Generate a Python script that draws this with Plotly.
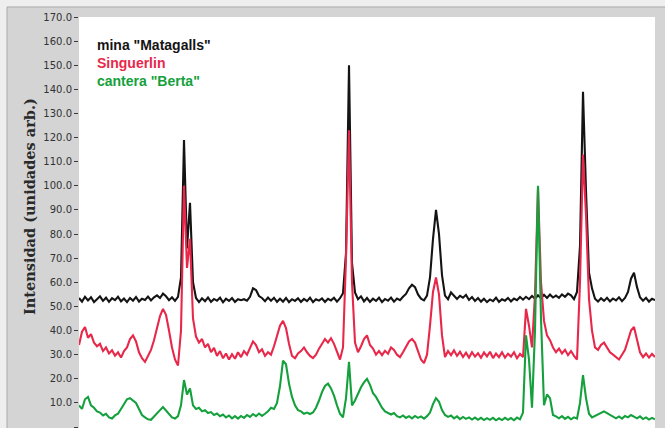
import numpy as np
import plotly.graph_objects as go

# Step scan: 2-theta start and step (degrees)
two_theta_start = 5.0
two_theta_step = 0.3

# Intensities (arbitrary units), one value per scan step
mina_matagalls = [
    53.5, 52.0, 54.0, 52.5, 53.8, 51.8, 53.0, 54.2, 52.3, 53.6,
    51.9, 53.4, 52.6, 54.0, 52.1, 53.3, 51.8, 53.5, 52.4, 53.9,
    52.0, 53.2, 52.7, 54.1, 52.5, 53.8, 54.6, 53.5, 55.3, 54.2,
    52.6, 53.8, 52.3, 54.0, 62.0, 119.0, 74.0, 93.0, 60.0, 53.5,
    51.8, 53.4, 52.2, 53.7, 51.9, 53.1, 52.4, 53.6, 51.7, 53.2,
    52.3, 53.5, 51.9, 53.0, 52.6, 53.0, 52.4, 54.0, 57.5, 56.8,
    54.3, 53.5, 52.2, 53.7, 52.4, 53.6, 51.9, 53.2, 52.0, 53.5,
    51.8, 53.0, 52.3, 53.4, 51.9, 53.1, 52.2, 53.6, 51.8, 53.0,
    52.4, 53.3, 51.9, 53.2, 52.5, 53.6, 52.0, 53.4, 55.5, 72.0,
    150.0, 68.0, 55.8, 53.0, 54.2, 52.1, 53.5, 51.9, 53.2, 52.3,
    53.6, 51.8, 53.1, 52.4, 53.7, 52.0, 53.3, 52.6, 54.0, 55.2,
    57.5, 59.0, 58.0, 55.0, 53.2, 52.5, 54.5, 62.0, 78.0, 90.0,
    80.0, 63.0, 54.5, 53.0, 55.8, 54.6, 53.1, 54.4, 53.6, 54.8,
    52.7, 53.9, 52.3, 53.5, 52.0, 53.2, 51.8, 52.9, 52.2, 53.6,
    51.9, 53.0, 52.4, 53.5, 52.1, 53.3, 52.6, 53.9, 52.8, 54.0,
    53.0, 54.3, 53.2, 54.6, 53.4, 54.8, 53.5, 54.9, 53.7, 54.5,
    53.6, 55.0, 54.0, 55.3, 54.6, 53.0, 56.0, 75.0, 139.0, 98.0,
    64.0, 57.5, 53.2, 52.0, 53.4, 52.3, 53.6, 52.1, 53.3, 52.5,
    53.8, 52.2, 53.5, 56.0, 61.5, 64.0, 58.0, 53.8, 52.4, 53.6,
    52.0, 53.2, 52.6,
]

singuerlin = [
    34.0, 39.5, 41.5, 37.0, 38.5, 35.0, 33.5, 34.5, 31.5, 33.0,
    30.5, 31.8, 29.6, 31.0, 28.8, 31.5, 33.0, 36.5, 38.0, 35.5,
    31.0, 28.5, 27.0, 29.5, 32.0, 36.0, 41.0, 46.0, 49.0, 46.5,
    40.0, 33.0, 28.0, 25.5, 40.0, 100.0, 66.0, 78.0, 45.0, 37.5,
    35.0, 36.5, 33.0, 34.5, 31.0, 32.8, 29.5, 31.5, 28.5, 30.5,
    28.0, 30.2, 28.3, 31.0, 29.0, 31.5, 30.0, 33.0, 35.5, 34.0,
    31.0, 32.2, 29.5, 31.0, 30.0, 33.5, 38.0, 42.0, 44.0, 41.0,
    34.5, 29.5, 28.5, 30.5, 31.5, 33.0, 31.0, 29.5, 28.6, 30.0,
    32.5, 34.5, 36.5, 35.0, 36.8, 34.5, 31.0, 28.0, 33.0, 70.0,
    123.0, 60.0, 35.0, 31.0, 33.5, 36.5, 38.0, 34.0, 32.5, 30.0,
    31.5, 29.8, 31.6, 30.4, 33.0, 32.0, 30.0, 29.0, 31.0, 33.5,
    35.5, 36.5, 35.0, 31.5, 28.0, 26.5, 30.0, 42.0, 56.0, 62.0,
    55.0, 38.0, 29.0, 31.5, 29.8, 31.8, 29.5, 31.2, 29.0, 30.8,
    28.8, 31.0, 29.2, 30.6, 28.7, 30.9, 29.3, 31.2, 28.6, 30.5,
    29.0, 31.0, 28.8, 30.4, 29.2, 31.0, 28.5, 30.3, 29.0, 49.0,
    42.0, 33.0, 55.0, 99.0, 60.0, 44.0, 38.0, 36.0, 33.0, 31.0,
    32.5, 30.5, 32.0, 29.8, 31.5, 29.5, 28.0, 60.0, 113.0, 88.0,
    53.0, 40.0, 33.0, 32.0, 34.0, 35.0, 33.0, 31.0, 30.0, 29.0,
    28.0, 30.0, 32.0, 36.0, 40.0, 41.5, 36.0, 31.0, 29.0, 30.5,
    28.8, 30.3, 29.0,
]

cantera_berta = [
    9.0, 7.5, 11.5, 12.5, 9.0, 8.0, 6.5, 6.0, 4.8, 5.5,
    4.0, 3.5, 4.8, 5.5, 7.5, 9.5, 11.5, 12.0, 11.0, 10.0,
    7.5, 5.0, 4.0, 3.2, 3.0, 4.2, 5.5, 7.0, 8.3, 7.0,
    5.5, 4.0, 3.5, 4.5, 9.0, 19.5, 13.5, 16.0, 9.0, 7.5,
    8.0, 6.5, 7.0, 5.8, 6.2, 5.0, 5.6, 4.5, 5.2, 4.0,
    4.8, 3.6, 4.5, 3.5, 4.6, 3.8, 5.0, 4.2, 5.4, 4.5,
    5.6, 4.6, 5.5, 6.5, 8.0, 7.5, 10.0, 17.0, 27.5, 26.0,
    18.0, 12.5, 9.0, 7.0, 6.5, 5.5, 6.0, 5.4, 6.0, 8.0,
    11.0, 14.5, 17.0, 18.0, 16.0, 13.0, 9.0, 5.5, 4.0, 12.0,
    27.0, 9.0, 11.0, 14.0, 16.5, 18.5, 20.0, 17.5, 14.0, 12.5,
    10.0, 8.0, 6.5, 6.0, 5.2, 5.8, 4.5, 4.0, 4.8, 3.8,
    4.5, 3.6, 4.6, 3.8, 4.4, 3.5, 4.5, 6.0, 9.5, 12.0,
    10.5, 7.0, 5.0, 4.2, 4.8, 3.6, 4.4, 3.3, 4.2, 3.4,
    4.0, 3.1, 3.9, 3.0, 3.8, 2.9, 3.7, 3.0, 3.8, 2.8,
    3.6, 2.9, 3.8, 3.0, 3.7, 2.8, 3.9, 3.2, 6.0, 38.0,
    28.0, 8.0, 40.0, 100.0, 45.0, 9.0, 13.5, 12.0, 5.0, 4.4,
    3.6, 4.5, 3.4, 4.2, 3.2, 4.0, 3.5, 10.0, 21.5, 12.0,
    5.5, 4.0, 4.6, 5.2, 6.0, 6.5, 5.8, 5.0, 4.2, 3.6,
    4.4, 3.5, 4.6, 4.0, 5.0, 4.2, 3.6, 4.4, 3.3, 4.0,
    3.1, 3.8, 3.2,
]

series_names = ['mina "Matagalls"', "Singuerlin", 'cantera "Berta"']
series_colors = ["#141414", "#e8284a", "#14a03c"]
series_values = [mina_matagalls, singuerlin, cantera_berta]

two_theta = np.round(two_theta_start + two_theta_step * np.arange(len(mina_matagalls)), 2)

fig = go.Figure()
for name, color, values in zip(series_names, series_colors, series_values):
    fig.add_trace(go.Scatter(
        x=two_theta, y=values, mode="lines", name=name,
        line=dict(color=color, width=2.1),
        showlegend=False,
    ))

# Page geometry in pixels
W, H = 665, 428
L, R, T, B = 79, 10, 17, 0
pw, ph = W - L - R, H - T - B


def px_x(p):
    return (p - L) / pw


def px_y(p):
    return (H - B - p) / ph


shapes = [
    # grey instrument panel
    dict(type="rect", xref="paper", yref="paper", layer="below",
         x0=px_x(7), x1=px_x(W + 5), y0=px_y(H + 5), y1=px_y(7),
         fillcolor="#d4d4d4", line=dict(color="#a9a9a9", width=1)),
    # white plotting surface
    dict(type="rect", xref="paper", yref="paper", layer="below",
         x0=0, x1=1, y0=0, y1=1,
         fillcolor="#ffffff", line=dict(width=0)),
]

annotations = [
    dict(text="Intensidad (unidades arb.)", xref="paper", yref="paper",
         x=px_x(29), y=px_y(207), textangle=-90, showarrow=False,
         xanchor="center", yanchor="middle",
         font=dict(family="DejaVu Serif", size=14.5, color="#2a2a2a", weight="bold")),
]
for i, (name, color) in enumerate(zip(series_names, series_colors)):
    annotations.append(dict(
        text=f"<b>{name}</b>", xref="paper", yref="paper",
        x=px_x(95), y=px_y(45 + 18 * i), showarrow=False,
        xanchor="left", yanchor="middle",
        font=dict(family="Liberation Sans", size=14, color=color),
    ))

fig.update_layout(
    width=W, height=H,
    margin=dict(l=L, r=R, t=T, b=B, pad=0),
    paper_bgcolor="#eeeeee",
    plot_bgcolor="rgba(0,0,0,0)",
    shapes=shapes,
    annotations=annotations,
    xaxis=dict(range=[two_theta_start, float(two_theta[-1])], visible=False),
    yaxis=dict(
        range=[-0.4, 170], dtick=10, tick0=0, tickformat=".1f",
        showgrid=False, zeroline=False, showline=False,
        ticks="outside", ticklen=4, tickcolor="#3a3a3a", tickwidth=1,
        tickfont=dict(family="DejaVu Sans", size=10, color="#333333"),
    ),
)

fig.write_html("out.html")
